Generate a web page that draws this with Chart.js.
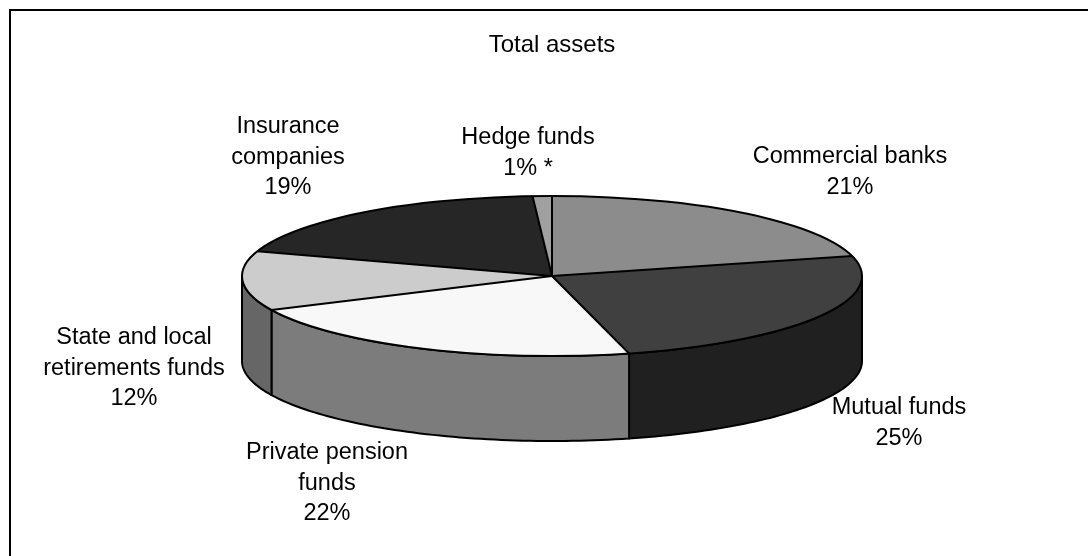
<!DOCTYPE html>
<html>
<head>
<meta charset="utf-8">
<script src="https://cdn.jsdelivr.net/npm/chart.js@4/dist/chart.umd.min.js"></script>
<style>
  html, body { margin: 0; padding: 0; background: #fff; overflow: hidden; }
  #wrap { position: relative; width: 1088px; height: 556px; }
</style>
</head>
<body>
<div id="wrap"><canvas id="chart"></canvas></div>
<script>
// Shares of total assets by type of institution (percent)
const categories = [
  'Commercial banks',
  'Mutual funds',
  'Private pension funds',
  'State and local retirements funds',
  'Insurance companies',
  'Hedge funds'
];
const shares = [21, 25, 22, 12, 19, 1];
const percentSuffix = ['', '', '', '', '', ' *'];

// How each category name is broken over lines in its label
const labelLines = [
  ['Commercial banks'],
  ['Mutual funds'],
  ['Private pension', 'funds'],
  ['State and local', 'retirements funds'],
  ['Insurance', 'companies'],
  ['Hedge funds']
];

// Label anchors (centre x, first line y)
const labelPos = [
  { x: 850, y: 157 },
  { x: 899, y: 408 },
  { x: 327, y: 453 },
  { x: 134, y: 338 },
  { x: 288, y: 127 },
  { x: 528, y: 138 }
];

const topColors  = ['#8c8c8c', '#404040', '#f8f8f8', '#cccccc', '#262626', '#a0a0a0'];
const sideColors = ['#464646', '#202020', '#7c7c7c', '#666666', '#131313', '#505050'];

const FONT = '"Liberation Sans", Arial, sans-serif';
const FONT_SIZE = 23.5;
const LINE_GAP = 30.5;

// Tilted pie geometry on the page
const PIE = { cx: 552, cy: 276, rx: 310, ry: 80, depth: 85 };

function ellipsePt(a, dy) {
  return [PIE.cx + PIE.rx * Math.cos(a), PIE.cy + PIE.ry * Math.sin(a) + (dy || 0)];
}

const framePlugin = {
  id: 'frame',
  beforeDraw(chart) {
    const ctx = chart.ctx;
    ctx.save();
    ctx.fillStyle = '#ffffff';
    ctx.fillRect(0, 0, chart.width, chart.height);
    ctx.strokeStyle = '#000000';
    ctx.lineWidth = 2;
    ctx.strokeRect(10, 10, chart.width + 20, chart.height + 20);
    ctx.restore();
  }
};

const pie3dPlugin = {
  id: 'pie3d',
  beforeDatasetsDraw(chart) {
    const ctx = chart.ctx;
    const arcs = chart.getDatasetMeta(0).data;
    // side walls of the front half (screen angles 0..PI)
    ctx.save();
    ctx.lineWidth = 2;
    ctx.strokeStyle = '#000';
    ctx.lineJoin = 'round';
    arcs.forEach((arc, i) => {
      [0, 2 * Math.PI, -2 * Math.PI].forEach(off => {
        const a = Math.max(arc.startAngle + off, 0);
        const b = Math.min(arc.endAngle + off, Math.PI);
        if (b - a > 1e-4) {
          ctx.beginPath();
          const n = 60;
          for (let k = 0; k <= n; k++) {
            const t = a + (b - a) * k / n;
            const p = ellipsePt(t, 0);
            if (k === 0) ctx.moveTo(p[0], p[1]); else ctx.lineTo(p[0], p[1]);
          }
          for (let k = n; k >= 0; k--) {
            const t = a + (b - a) * k / n;
            const p = ellipsePt(t, PIE.depth);
            ctx.lineTo(p[0], p[1]);
          }
          ctx.closePath();
          ctx.fillStyle = sideColors[i];
          ctx.fill();
          ctx.stroke();
        }
      });
    });
    ctx.restore();

    // squash the library's circular pie onto the tilted ellipse
    const a0 = arcs[0];
    const r = a0.outerRadius;
    ctx.save();
    ctx.translate(PIE.cx, PIE.cy);
    ctx.scale(PIE.rx / r, PIE.ry / r);
    ctx.translate(-a0.x, -a0.y);
  },
  afterDatasetsDraw(chart) {
    const ctx = chart.ctx;
    ctx.restore();
    const arcs = chart.getDatasetMeta(0).data;
    ctx.save();
    ctx.strokeStyle = '#000';
    ctx.lineWidth = 2;
    ctx.lineJoin = 'round';
    ctx.beginPath();
    ctx.ellipse(PIE.cx, PIE.cy, PIE.rx, PIE.ry, 0, 0, 2 * Math.PI);
    ctx.stroke();
    arcs.forEach(arc => {
      const p = ellipsePt(arc.startAngle, 0);
      ctx.beginPath();
      ctx.moveTo(PIE.cx, PIE.cy);
      ctx.lineTo(p[0], p[1]);
      ctx.stroke();
    });
    ctx.restore();
  },
  afterDraw(chart) {
    const ctx = chart.ctx;
    ctx.save();
    ctx.fillStyle = '#000';
    ctx.font = FONT_SIZE + 'px ' + FONT;
    ctx.textAlign = 'center';
    ctx.textBaseline = 'middle';
    categories.forEach((c, i) => {
      const lines = labelLines[i].concat([shares[i] + '%' + percentSuffix[i]]);
      lines.forEach((ln, j) => {
        ctx.fillText(ln, labelPos[i].x, labelPos[i].y + j * LINE_GAP);
      });
    });
    ctx.restore();
  }
};

new Chart(document.getElementById('chart'), {
  type: 'pie',
  data: {
    labels: categories,
    datasets: [{
      data: shares,
      backgroundColor: topColors,
      borderWidth: 0
    }]
  },
  options: {
    responsive: true,
    maintainAspectRatio: false,
    animation: false,
    rotation: 0,
    layout: { padding: { left: 16 } },
    plugins: {
      legend: { display: false },
      tooltip: { enabled: false },
      title: {
        display: true,
        text: 'Total assets',
        color: '#000',
        font: { family: FONT, size: 24, weight: 'normal', lineHeight: 1.2 },
        padding: { top: 31, bottom: 10 }
      }
    }
  },
  plugins: [framePlugin, pie3dPlugin]
});
</script>
</body>
</html>
